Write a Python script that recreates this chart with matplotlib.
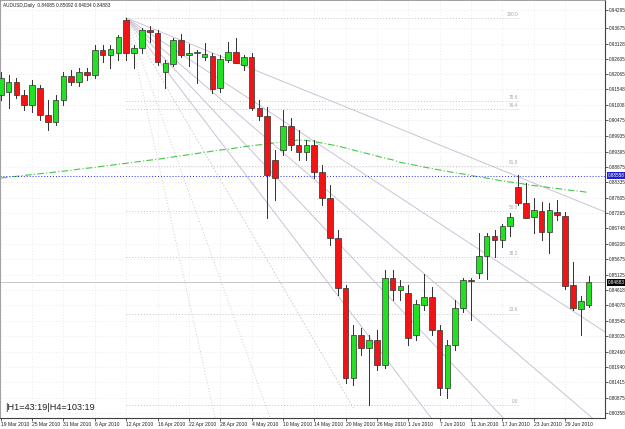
import matplotlib
matplotlib.use("Agg")
import matplotlib.pyplot as plt
from matplotlib.patches import Rectangle

# AUDUSD daily candles, 19 Mar 2010 .. 2 Jul 2010 (MT4 style screenshot)
symbol = "AUDUSD,Daily"
last_ohlc = ["0.84085", "0.85092", "0.84034", "0.84883"]
status_text = "|H1=43:19|H4=103:19"

date_labels = ["19 Mar 2010", "25 Mar 2010", "31 Mar 2010", "6 Apr 2010", "12 Apr 2010",
               "16 Apr 2010", "22 Apr 2010", "28 Apr 2010", "4 May 2010", "10 May 2010",
               "14 May 2010", "20 May 2010", "26 May 2010", "1 Jun 2010", "7 Jun 2010",
               "11 Jun 2010", "17 Jun 2010", "23 Jun 2010", "29 Jun 2010"]

opens = [0.9135, 0.9146, 0.9180, 0.9135, 0.9101, 0.9160, 0.9066, 0.9042, 0.9118, 0.9201,
         0.9180, 0.9215, 0.9205, 0.9291, 0.9274, 0.9281, 0.9395, 0.9281, 0.9298, 0.9360,
         0.9350, 0.9215, 0.9243, 0.9326, 0.9274, 0.9281, 0.9267, 0.9270, 0.9160, 0.9257,
         0.9284, 0.9239, 0.9267, 0.9090, 0.9063, 0.8911, 0.8945, 0.9028, 0.8962, 0.8938,
         0.8962, 0.8869, 0.8779, 0.8641, 0.8468, 0.8156, 0.8305, 0.8260, 0.8288, 0.8201,
         0.8502, 0.8461, 0.8450, 0.8305, 0.8409, 0.8437, 0.8322, 0.8122, 0.8270, 0.8398,
         0.8495, 0.8520, 0.8578, 0.8648, 0.8634, 0.8682, 0.8817, 0.8762, 0.8713, 0.8734,
         0.8661, 0.8731, 0.8717, 0.8478, 0.8395, 0.8409]
highs = [0.9215, 0.9205, 0.9194, 0.9153, 0.9187, 0.9170, 0.9118, 0.9135, 0.9215, 0.9222,
         0.9229, 0.9229, 0.9308, 0.9308, 0.9308, 0.9343, 0.9402, 0.9308, 0.9367, 0.9374,
         0.9360, 0.9257, 0.9333, 0.9347, 0.9312, 0.9291, 0.9315, 0.9281, 0.9274, 0.9319,
         0.9333, 0.9274, 0.9281, 0.9118, 0.9094, 0.8945, 0.9084, 0.9056, 0.9014, 0.8980,
         0.8980, 0.8893, 0.8824, 0.8668, 0.8478, 0.8340, 0.8329, 0.8305, 0.8322, 0.8530,
         0.8530, 0.8495, 0.8478, 0.8426, 0.8516, 0.8471, 0.8340, 0.8288, 0.8426, 0.8502,
         0.8502, 0.8658, 0.8658, 0.8668, 0.8689, 0.8727, 0.8859, 0.8831, 0.8779, 0.8765,
         0.8762, 0.8772, 0.8731, 0.8558, 0.8440, 0.8509]
lows = [0.9118, 0.9090, 0.9125, 0.9084, 0.9077, 0.9049, 0.9014, 0.9032, 0.9101, 0.9170,
        0.9167, 0.9187, 0.9194, 0.9250, 0.9229, 0.9257, 0.9257, 0.9229, 0.9281, 0.9319,
        0.9239, 0.9160, 0.9236, 0.9267, 0.9236, 0.9177, 0.9257, 0.9142, 0.9146, 0.9250,
        0.9246, 0.9222, 0.9084, 0.9049, 0.8710, 0.8772, 0.8928, 0.8945, 0.8911, 0.8911,
        0.8848, 0.8755, 0.8616, 0.8443, 0.8139, 0.8132, 0.8236, 0.8063, 0.8184, 0.8191,
        0.8426, 0.8426, 0.8270, 0.8288, 0.8392, 0.8305, 0.8097, 0.8087, 0.8253, 0.8385,
        0.8357, 0.8502, 0.8499, 0.8575, 0.8610, 0.8648, 0.8755, 0.8710, 0.8658, 0.8634,
        0.8589, 0.8703, 0.8464, 0.8392, 0.8305, 0.8403]
closes = [0.9194, 0.9180, 0.9135, 0.9101, 0.9170, 0.9066, 0.9042, 0.9118, 0.9201, 0.9180,
          0.9215, 0.9205, 0.9291, 0.9274, 0.9295, 0.9336, 0.9281, 0.9298, 0.9360, 0.9353,
          0.9250, 0.9246, 0.9326, 0.9274, 0.9281, 0.9284, 0.9277, 0.9156, 0.9260, 0.9284,
          0.9246, 0.9267, 0.9090, 0.9063, 0.8859, 0.8848, 0.9028, 0.8962, 0.8938, 0.8962,
          0.8869, 0.8779, 0.8641, 0.8468, 0.8156, 0.8305, 0.8260, 0.8288, 0.8201, 0.8502,
          0.8461, 0.8475, 0.8295, 0.8412, 0.8437, 0.8322, 0.8122, 0.8270, 0.8398, 0.8495,
          0.8492, 0.8578, 0.8648, 0.8634, 0.8682, 0.8713, 0.8762, 0.8710, 0.8738, 0.8661,
          0.8738, 0.8720, 0.8475, 0.8398, 0.8423, 0.8488]

# green dash-dot moving average, read bar by bar
ma_values = [0.8848, 0.8851, 0.8854, 0.8857, 0.8860, 0.8863, 0.8866, 0.8869, 0.8872, 0.8875,
             0.8879, 0.8882, 0.8885, 0.8889, 0.8892, 0.8896, 0.8899, 0.8903, 0.8906, 0.8910,
             0.8913, 0.8917, 0.8921, 0.8925, 0.8929, 0.8933, 0.8937, 0.8941, 0.8945, 0.8948,
             0.8952, 0.8956, 0.8960, 0.8963, 0.8966, 0.8970, 0.8973, 0.8976, 0.8980, 0.8978,
             0.8975, 0.8969, 0.8964, 0.8959, 0.8952, 0.8945, 0.8938, 0.8931, 0.8924, 0.8917,
             0.8911, 0.8902, 0.8897, 0.8892, 0.8886, 0.8881, 0.8876, 0.8871, 0.8866, 0.8862,
             0.8857, 0.8852, 0.8848, 0.8843, 0.8838, 0.8834, 0.8831, 0.8826, 0.8822, 0.8819,
             0.8815, 0.8812, 0.8808, 0.8805, 0.8802, 0.8798]

price_labels = ["0.94295", "0.93675", "0.93128", "0.92605", "0.92065", "0.91548", "0.91008",
                "0.90475", "0.89935", "0.89395", "0.88875", "0.88335", "0.87805", "0.87265",
                "0.86748", "0.86208", "0.85675", "0.85125", "0.84618", "0.84078", "0.83545",
                "0.83005", "0.82460", "0.81940", "0.81415", "0.80875", "0.80358"]

fib_levels = [0.0, 23.6, 38.2, 50.0, 61.8, 76.4, 78.6, 100.0]
fib_start_bar, fib_end_bar = 16, 66
fan_levels = [0.236, 0.382, 0.5, 0.618, 0.764, 1.618, 2.618]
fan_end_bar, fan_end_price = 45, 0.8052
marker_price = 0.88558
marker_text = "0.88558"

n = len(opens)
bars = list(range(n))
small = ["Liberation Sans", "DejaVu Sans"]

fig = plt.figure(figsize=(6.25, 4.29), dpi=100)
ax = fig.add_axes([0.0, 11 / 429, 605 / 625, 1 - 11 / 429])
ax.set_xlim(-0.1, 77.1)
ax.set_ylim(0.80178, 0.94641)
ax.set_facecolor("white")

# MT4 grid
ax.set_yticks([float(s) for s in price_labels])
ax.set_yticklabels(price_labels, family=small)
ax.set_xticks(bars[::4][:len(date_labels)])
ax.set_xticklabels(date_labels, ha="left", family=small)
ax.grid(True, color="#dadada", linestyle=(0, (1, 3)), linewidth=0.5)
ax.yaxis.tick_right()
ax.tick_params(axis="y", labelsize=3.3, length=2, pad=0.5, colors="#202020", width=0.5)
ax.tick_params(axis="x", labelsize=3.6, length=2, pad=1, colors="#202020", width=0.5)
for side in ["top", "left"]:
    ax.spines[side].set_color("#909090")
    ax.spines[side].set_linewidth(0.6)
for side in ["right", "bottom"]:
    ax.spines[side].set_color("#404040")
    ax.spines[side].set_linewidth(0.8)

# fibonacci retracement
hi = max(highs)
lo = min(lows)
for lev in fib_levels:
    p = lo + (hi - lo) * lev / 100
    ax.plot([fib_start_bar, fib_end_bar], [p, p], color="#c4c4c4", linestyle=(0, (1, 2)), lw=0.7)
    ax.text(fib_end_bar, p + 0.0004, f"{lev:.1f}", fontsize=3.4, color="#a8a8a8",
            ha="right", va="bottom", family=small)

# fibonacci fan from the top
top_bar = highs.index(hi)
x_end = 77.1
for k in fan_levels:
    p2 = hi - k * (hi - fan_end_price)
    slope = (p2 - hi) / (fan_end_bar - top_bar)
    style = "-" if k < 1 else (0, (1, 2))
    col = "#c9c3d6" if k < 1 else "#cccccc"
    ax.plot([top_bar, x_end], [hi, hi + slope * (x_end - top_bar)], color=col, lw=0.7,
            linestyle=style)
ax.plot([top_bar, fan_end_bar], [hi, fan_end_price], color="#c8c8c8", lw=0.6, linestyle=(0, (2, 2)))

# moving average and marker lines
ax.plot(bars, ma_values, color="#44c844", lw=0.8, linestyle=(0, (6, 2, 1, 2)))
ax.axhline(marker_price, color="#2a2aff", lw=0.7, linestyle=(0, (1, 2)))
ax.axhline(closes[-1], color="#c0c0c0", lw=0.6)

# candles
for i in bars:
    o, h, l, c = opens[i], highs[i], lows[i], closes[i]
    ax.plot([i, i], [l, h], color="#303030", lw=0.7, zorder=3)
    up = c >= o
    body_lo, body_hi = min(o, c), max(o, c)
    ax.add_patch(Rectangle((i - 0.36, body_lo), 0.72, max(body_hi - body_lo, 0.00012),
                           facecolor="#22e022" if up else "#f01414",
                           edgecolor="#303030", lw=0.5, zorder=4))

# price boxes on the right axis
for price, txt, col in [(marker_price, marker_text, "#2020d0"), (closes[-1], last_ohlc[3], "black")]:
    ax.text(1.004, price, txt, transform=ax.get_yaxis_transform(), fontsize=3.3,
            color="white", va="center", ha="left", family=small,
            bbox=dict(boxstyle="square,pad=0.2", fc=col, ec="none"))

ax.text(0.005, 0.993, symbol + "  " + " ".join(last_ohlc), transform=ax.transAxes,
        fontsize=3.4, color="#202020", va="top", ha="left", family=small)
ax.text(0.008, 0.025, status_text, transform=ax.transAxes, fontsize=6.6,
        color="#202020", va="center", ha="left", family=small)

fig.savefig("out.png", dpi=100)
